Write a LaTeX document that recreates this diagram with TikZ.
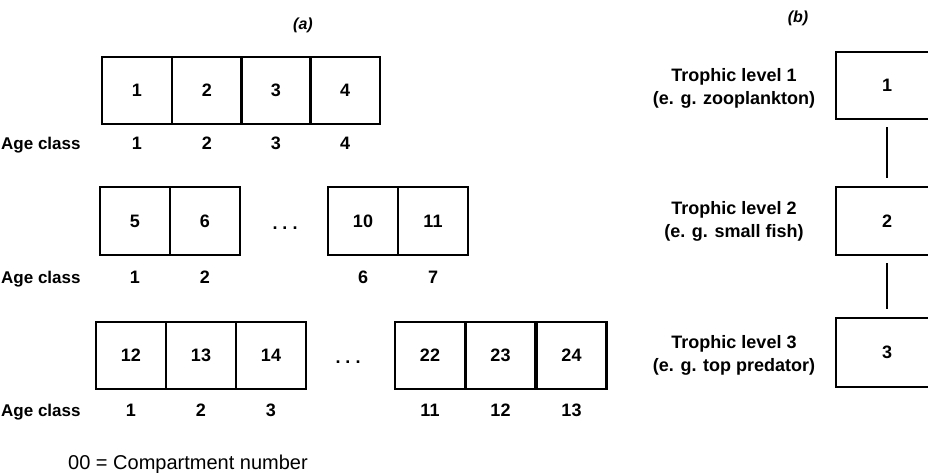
\documentclass[tikz,border=0pt]{standalone}
\usepackage{fontspec}
\setmainfont{Liberation Sans}
\begin{document}
\begin{tikzpicture}[x=1pt,y=-1pt,
  cell/.style={draw,line width=2.2pt,minimum width=70pt,minimum height=67pt,
    inner sep=0pt,font=\bfseries\fontsize{18}{20}\selectfont},
  agelab/.style={anchor=base,inner sep=0pt,font=\bfseries\fontsize{18}{20}\selectfont},
  agename/.style={anchor=base west,inner sep=0pt,font=\bfseries\fontsize{17}{20}\selectfont},
  tbox/.style={cell,minimum width=102pt},
  tlab/.style={align=center,inner sep=0pt,font=\bfseries\fontsize{18}{23}\selectfont},
  link/.style={line width=2.5pt,shorten <=7pt,shorten >=8pt}]
  \useasboundingbox (0,0) rectangle (928,473);
  % (a) age-structured compartments
  \node[font=\bfseries\itshape\fontsize{16}{18}\selectfont] (pa) at (303,25) {(a)};
  \foreach \n/\x in {1/137,2/207,3/276,4/345} {
    \node[cell,minimum width=69.5pt] (c\n) at (\x,90.5) {\n};
    \node[agelab] (a\n) at (\x,149.5) {\n};
  }
  \node[agename] (age1) at (1,149.5) {Age class};
  \foreach \n/\x/\a in {5/135/1,6/205/2,10/363/6,11/433/7} {
    \node[cell,minimum height=68pt] (c\n) at (\x,221) {\n};
    \node[agelab] (a\n) at (\x,283.5) {\a};
  }
  \node[agename] (age2) at (1,283.5) {Age class};
  \node[agelab,anchor=center] (dots2) at (285,228) {.\hspace{5pt}.\hspace{5pt}.};
  \foreach \n/\x/\a in {12/131/1,13/201/2,14/271/3,22/430/11,23/500.5/12,24/571.5/13} {
    \node[cell] (c\n) at (\x,355.5) {\n};
    \node[agelab] (a\n) at (\x,416.5) {\a};
  }
  \node[agename] (age3) at (1,416.5) {Age class};
  \node[agelab,anchor=center] (dots3) at (348,362) {.\hspace{5pt}.\hspace{5pt}.};
  \node[anchor=base west,inner sep=0pt,font=\fontsize{20}{22}\selectfont] (key) at (68,469) {00 = Compartment number};
  % (b) trophic levels
  \node[font=\bfseries\itshape\fontsize{16}{18}\selectfont] (pb) at (798,18) {(b)};
  \node[tbox] (t1) at (887,85.5) {1};
  \node[tbox,minimum height=68pt] (t2) at (887,221) {2};
  \node[tbox,minimum height=69pt] (t3) at (887,352.5) {3};
  \draw[link] (t1) -- (t2);
  \draw[link] (t2) -- (t3);
  \node[tlab] (l1) at (734,88.5) {Trophic level 1\\(e. g. zooplankton)};
  \node[tlab] (l2) at (734,221.5) {Trophic level 2\\(e. g. small fish)};
  \node[tlab] (l3) at (734,355) {Trophic level 3\\(e. g. top predator)};
\end{tikzpicture}
\end{document}
